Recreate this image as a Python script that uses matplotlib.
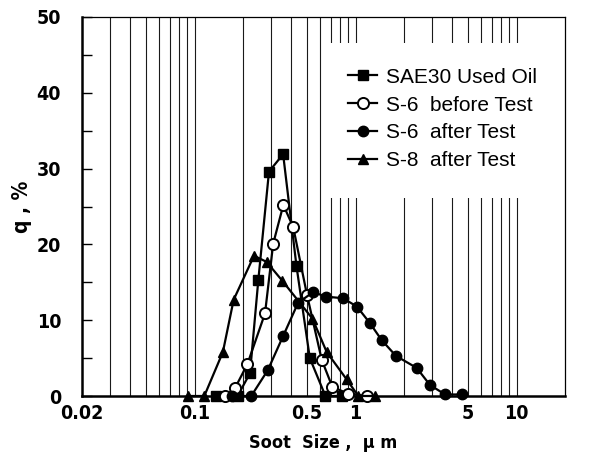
import matplotlib
matplotlib.use("Agg")
import matplotlib.pyplot as plt
from matplotlib.patches import Rectangle

# soot size distribution
sae30_x = [0.135, 0.185, 0.221, 0.249, 0.29, 0.355, 0.43, 0.52, 0.65, 0.82]
sae30_y = [0, 0, 3.0, 15.3, 29.6, 31.9, 17.1, 5.0, 0, 0]

s6_before_x = [0.155, 0.178, 0.213, 0.274, 0.308, 0.356, 0.41, 0.50, 0.617, 0.718, 0.90, 1.17]
s6_before_y = [0, 1.0, 4.2, 10.9, 20.1, 25.2, 22.3, 13.3, 4.75, 1.2, 0.3, 0]

s6_after_x = [0.17, 0.225, 0.285, 0.354, 0.44, 0.545, 0.66, 0.836, 1.02, 1.23, 1.45,
              1.78, 2.4, 2.9, 3.6, 4.6]
s6_after_y = [0, 0, 3.4, 7.85, 12.3, 13.7, 13.1, 12.9, 11.8, 9.6, 7.4, 5.3, 3.7, 1.45, 0.2, 0.2]

s8_after_x = [0.091, 0.115, 0.15, 0.175, 0.234, 0.28, 0.351, 0.54, 0.662, 0.88, 1.04, 1.32]
s8_after_y = [0, 0, 5.8, 12.7, 18.5, 17.7, 15.2, 10.2, 5.8, 2.2, 0, 0]

labels = ["SAE30 Used Oil", "S-6  before Test", "S-6  after Test", "S-8  after Test"]
grid_x = [0.03, 0.04, 0.05, 0.06, 0.07, 0.08, 0.09,
          0.1, 0.2, 0.3, 0.4, 0.5, 0.6, 0.7, 0.8, 0.9,
          1, 2, 3, 4, 5, 6, 7, 8, 9, 10]
xticks = [0.02, 0.1, 0.5, 1, 5, 10]
xticklabels = ["0.02", "0.1", "0.5", "1", "5", "10"]

BOLD = dict(family="DejaVu Sans", weight="bold", stretch="condensed")

fig = plt.figure(figsize=(6.02, 4.59), dpi=100)
ax = fig.add_axes([82 / 602, (459 - 396) / 459, 483 / 602, 379 / 459])
ax.set_xscale("log")
ax.set_xlim(0.02, 20)
ax.set_ylim(0, 50)

for gx in grid_x:
    ax.axvline(gx, color="#1a1a1a", lw=0.8, zorder=1)

# white box behind the legend hides the grid
ax.add_patch(Rectangle((0.503, 0.522), 0.478, 0.409, transform=ax.transAxes,
                       facecolor="white", edgecolor="none", zorder=2))

kw = dict(color="black", lw=1.6, clip_on=False, zorder=4)
h1, = ax.plot(sae30_x, sae30_y, marker="s", ms=7, **kw)
h2, = ax.plot(s6_before_x, s6_before_y, marker="o", ms=8, mfc="white", mew=1.4, **kw)
h3, = ax.plot(s6_after_x, s6_after_y, marker="o", ms=7.5, **kw)
h4, = ax.plot(s8_after_x, s8_after_y, marker="^", ms=7.5, **kw)

leg = ax.legend([h1, h2, h3, h4], labels, loc="upper left", bbox_to_anchor=(0.551, 0.866),
                frameon=False, borderpad=0, borderaxespad=0,
                handlelength=1.4, handletextpad=0.4, labelspacing=0.42,
                prop=dict(family="Liberation Sans", size=15))
leg.set_zorder(5)

ax.set_xticks(xticks)
ax.set_xticklabels(xticklabels)
ax.minorticks_off()
ax.tick_params(axis="x", length=0, pad=6)
ax.set_yticks(range(0, 51, 10))
ax.set_yticks(range(5, 50, 10), minor=True)
ax.tick_params(axis="y", which="both", direction="in", length=7, width=1, pad=15)
for lab in ax.get_xticklabels() + ax.get_yticklabels():
    lab.set_fontproperties(BOLD)
    lab.set_fontsize(14)

for side in ["left", "bottom"]:
    ax.spines[side].set_linewidth(1.8)
for side in ["top", "right"]:
    ax.spines[side].set_linewidth(0.9)

ax.set_xlabel("Soot  Size ,  \u03bc m", fontsize=13, labelpad=8, **BOLD)
ax.set_ylabel("q , %", fontsize=15, labelpad=3, **BOLD)

fig.savefig("out.png", dpi=100)
